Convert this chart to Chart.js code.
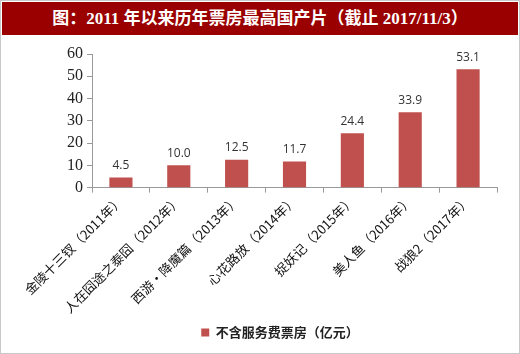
<!DOCTYPE html>
<html lang="zh">
<head>
    <meta charset="UTF-8">
    <title>2011年以来历年票房最高国产片</title>
    <script src="https://cdn.jsdelivr.net/npm/chart.js"></script>
    <style>
        body { margin: 0; background: #fff; }
        #wrap { position: relative; width: 518px; height: 352px; border: 1px solid #c8c8c8; overflow: hidden; }
        #title {
            position: absolute; left: 1px; top: 1px; width: 516px; height: 33px;
            background: #9b0000; color: #fff; text-align: center;
            font: bold 17px "Liberation Serif", "Noto Sans CJK SC", serif; line-height: 33px;
        }
        #chart { position: absolute; left: 0; top: 0; }
    </style>
</head>
<body>
<div id="wrap">
    <canvas id="chart" width="518" height="352"></canvas>
    <div id="title">图：2011 年以来历年票房最高国产片（截止 2017/11/3）</div>
</div>
<script>
    const films = ['金陵十三钗（2011年）', '人在囧途之泰囧（2012年）', '西游·降魔篇（2013年）',
        '心花路放（2014年）', '捉妖记（2015年）', '美人鱼（2016年）', '战狼2（2017年）'];
    const boxOffice = [4.5, 10.0, 12.5, 11.7, 24.4, 33.9, 53.1];
    const seriesName = '不含服务费票房（亿元）';

    // Werte über die Balken schreiben
    const valueLabels = {
        id: 'valueLabels',
        afterDatasetsDraw(chart) {
            const ctx = chart.ctx;
            const meta = chart.getDatasetMeta(0);
            ctx.save();
            ctx.fillStyle = '#333';
            ctx.font = '12px "Open Sans", sans-serif';
            ctx.textAlign = 'center';
            ctx.textBaseline = 'bottom';
            meta.data.forEach((bar, i) => {
                ctx.fillText(boxOffice[i].toFixed(1), bar.x, bar.y - 6);
            });
            ctx.restore();
        }
    };

    new Chart(document.getElementById('chart'), {
        type: 'bar',
        data: {
            labels: films,
            datasets: [{
                label: seriesName,
                data: boxOffice,
                backgroundColor: '#c0504d',
                barPercentage: 0.4,
                categoryPercentage: 1.0
            }]
        },
        options: {
            responsive: false,
            animation: false,
            layout: { padding: { top: 53, right: 22, left: 62, bottom: 4 } },
            plugins: {
                legend: {
                    position: 'bottom',
                    labels: {
                        boxWidth: 8, boxHeight: 8, color: '#222',
                        font: { family: '"Noto Sans CJK SC"', size: 13, weight: 'bold' }
                    }
                },
                tooltip: { enabled: false }
            },
            scales: {
                x: {
                    // erstes Label darf links abgeschnitten werden wie im Original
                    afterFit(scale) { scale.paddingLeft = 0; },
                    grid: { drawOnChartArea: false, color: '#999', tickLength: 5 },
                    border: { color: '#999' },
                    ticks: {
                        color: '#111', maxRotation: 45, minRotation: 45, padding: 0,
                        font: { family: '"Noto Sans CJK SC"', size: 13 }
                    }
                },
                y: {
                    min: 0, max: 60,
                    grid: { drawOnChartArea: false, color: '#999', tickLength: 5 },
                    border: { color: '#999' },
                    ticks: {
                        stepSize: 10, color: '#222', padding: 4,
                        font: { family: '"Liberation Serif"', size: 16 }
                    }
                }
            }
        },
        plugins: [valueLabels]
    });
</script>
</body>
</html>
